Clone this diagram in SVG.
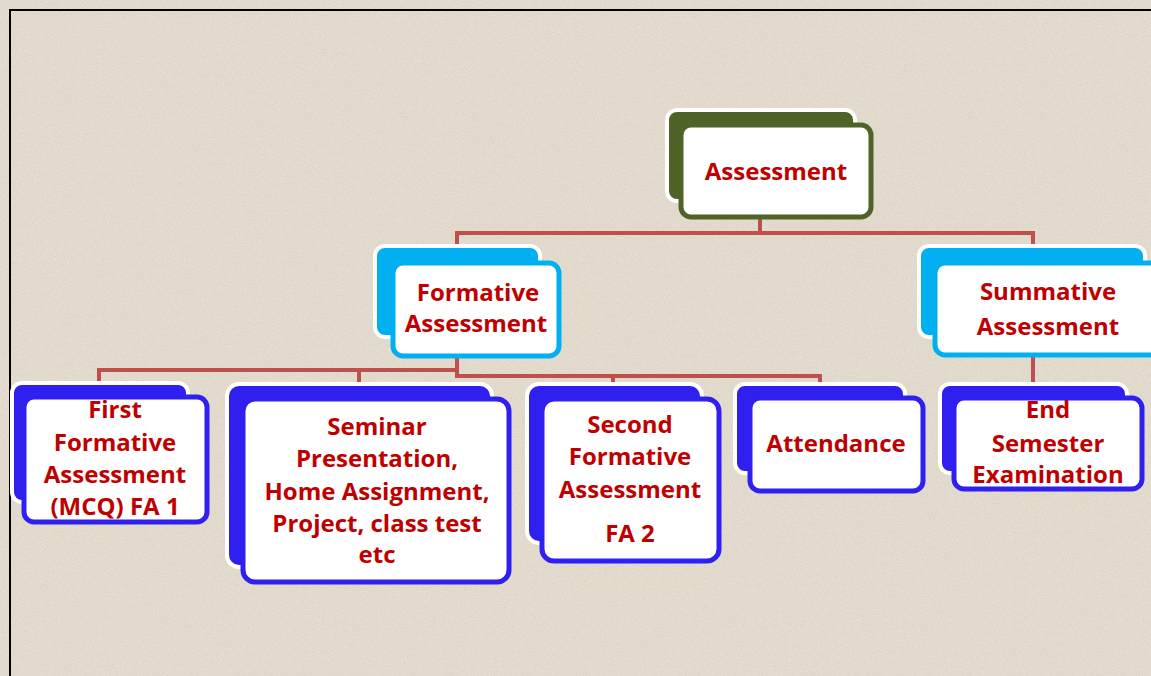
<svg xmlns="http://www.w3.org/2000/svg" width="1151" height="676" viewBox="0 0 1151 676">
<defs>
<filter id="noise" x="0" y="0" width="100%" height="100%">
<feTurbulence type="fractalNoise" baseFrequency="0.9" numOctaves="2" seed="3" result="t"/>
<feColorMatrix type="matrix" values="0 0 0 0 0.45  0 0 0 0 0.40  0 0 0 0 0.33  0 0 0 1.2 -0.55" in="t"/>
</filter>
<style>
.txt{font-family:"Open Sans","Noto Sans","Liberation Sans",sans-serif;font-weight:bold;font-size:24px;fill:#c00000;text-anchor:middle}
.conn{fill:none;stroke:#c0504d;stroke-width:4}
.backG{fill:#4f6228;stroke:#fff;stroke-width:4}
.frontG{fill:#fff;stroke:#4f6228;stroke-width:5}
.backC{fill:#00b0f0;stroke:#fff;stroke-width:4}
.frontC{fill:#fff;stroke:#00b0f0;stroke-width:5}
.backB{fill:#2f20f0;stroke:#fff;stroke-width:4}
.frontB{fill:#fff;stroke:#2f20f0;stroke-width:5}
</style>
</defs>
<rect x="0" y="0" width="1151" height="676" fill="#e3dccf"/>
<rect x="0" y="0" width="1151" height="676" filter="url(#noise)" opacity="0.5"/>
<rect x="10" y="10" width="1160" height="700" fill="none" stroke="#000" stroke-width="2"/>

<g id="connectors">
<path class="conn" d="M760 218 V233 M457 252 V233 H1033 V252"/>
<path class="conn" d="M457 357 V370 H99 V388"/>
<path class="conn" d="M457 370 V376 H820 V388 M359 370 V388 M613 376 V388"/>
<path class="conn" d="M1033 356 V388"/>
</g>

<g id="n-assessment">
<rect class="backG" x="667" y="110" width="188" height="91" rx="10"/>
<rect class="frontG" x="681" y="125" width="190" height="92" rx="10"/>
<text class="txt" x="776" y="180">Assessment</text>
</g>

<g id="n-formative">
<rect class="backC" x="375" y="246" width="165" height="91" rx="10"/>
<rect class="frontC" x="393" y="263" width="166" height="93" rx="10"/>
<text class="txt" x="478" y="301">Formative</text>
<text class="txt" x="476" y="332">Assessment</text>
</g>

<g id="n-summative">
<rect class="backC" x="919" y="246" width="226" height="91" rx="10"/>
<rect class="frontC" x="935" y="263" width="230" height="92" rx="10"/>
<text class="txt" x="1048" y="300">Summative</text>
<text class="txt" x="1048" y="335">Assessment</text>
</g>

<g id="n-fa1">
<rect class="backB" x="12" y="383" width="176" height="119" rx="10"/>
<rect class="frontB" x="24" y="397" width="183" height="125" rx="10"/>
<text class="txt" x="115" y="418">First</text>
<text class="txt" x="115" y="451">Formative</text>
<text class="txt" x="115" y="483">Assessment</text>
<text class="txt" x="115" y="515">(MCQ) FA 1</text>
</g>

<g id="n-seminar">
<rect class="backB" x="227" y="384" width="265" height="183" rx="12"/>
<rect class="frontB" x="243" y="399" width="266" height="183" rx="12"/>
<text class="txt" x="377" y="435">Seminar</text>
<text class="txt" x="377" y="467">Presentation,</text>
<text class="txt" x="377" y="500">Home Assignment,</text>
<text class="txt" x="377" y="532">Project, class test</text>
<text class="txt" x="377" y="563">etc</text>
</g>

<g id="n-fa2">
<rect class="backB" x="527" y="384" width="175" height="159" rx="12"/>
<rect class="frontB" x="542" y="399" width="177" height="162" rx="12"/>
<text class="txt" x="630" y="433">Second</text>
<text class="txt" x="630" y="465">Formative</text>
<text class="txt" x="630" y="498">Assessment</text>
<text class="txt" x="630" y="542">FA 2</text>
</g>

<g id="n-attendance">
<rect class="backB" x="735" y="384" width="170" height="89" rx="10"/>
<rect class="frontB" x="750" y="398" width="173" height="93" rx="10"/>
<text class="txt" x="836" y="452">Attendance</text>
</g>

<g id="n-endsem">
<rect class="backB" x="940" y="384" width="187" height="89" rx="10"/>
<rect class="frontB" x="954" y="398" width="188" height="91" rx="10"/>
<text class="txt" x="1048" y="418">End</text>
<text class="txt" x="1048" y="452">Semester</text>
<text class="txt" x="1048" y="483">Examination</text>
</g>
</svg>
